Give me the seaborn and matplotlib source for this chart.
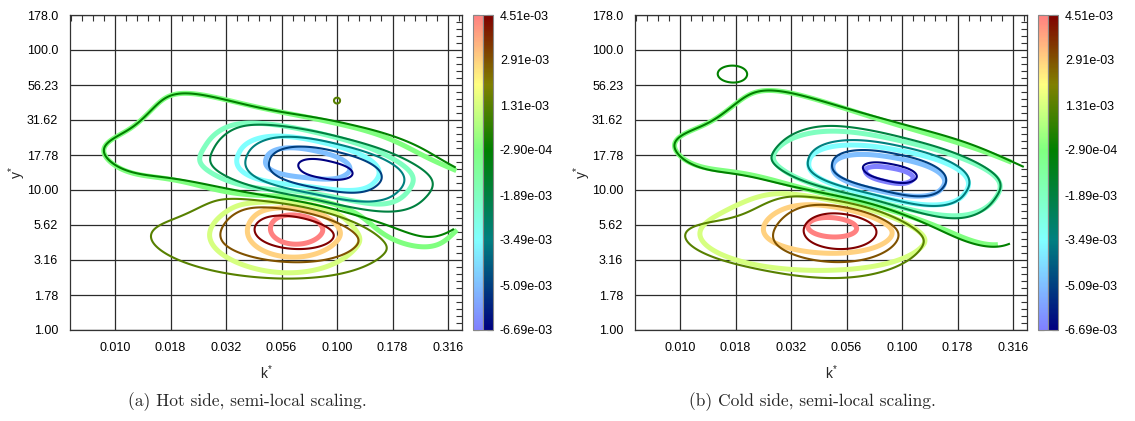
import numpy as np
import matplotlib
matplotlib.use("Agg")
import matplotlib.pyplot as plt
import seaborn as sns
from matplotlib.colors import LinearSegmentedColormap, Normalize
from matplotlib.cm import ScalarMappable
from matplotlib.ticker import FixedLocator, FixedFormatter, NullFormatter

levels = [-6.69e-3, -5.09e-3, -3.49e-3, -1.89e-3, -2.90e-4, 1.31e-3, 2.91e-3, 4.51e-3]
k_labels = ["0.010", "0.018", "0.032", "0.056", "0.100", "0.178", "0.316"]
y_labels = ["1.00", "1.78", "3.16", "5.62", "10.00", "17.78", "31.62", "56.23", "100.0", "178.0"]
captions = ["(a) Hot side, semi-local scaling.", "(b) Cold side, semi-local scaling."]

# spectrum read off as blobs in log(k*), log(y*):
# amp, k centre, y centre, width log k, width log y, tilt, flatness, skew
hot_thick = [
    [ 5.15e-3, 0.0692, 5.62, 0.17, 0.18, -10, 1, 0],
    [ 1.2e-3, 0.0355, 4.37, 0.26, 0.20, -22, 1, 0],
    [-4.9e-3, 0.0741, 14.4, 0.266, 0.165, -18, 1.2, 0],
    [-1.4e-3, 0.0708, 13.8, 0.672, 0.25, -26, 3, 0.096],
    [-0.45e-3, 0.0132, 15.85, 0.15, 0.10, -25, 1, 0],
]
hot_thin = [
    [ 5.8e-3, 0.0676, 5.37, 0.25, 0.19, -15, 1, 0],
    [ 1.5e-3, 0.0224, 3.98, 0.30, 0.16, -25, 1, 0],
    [-6.2e-3, 0.0871, 12.9, 0.276, 0.177, -20, 1.2, 0],
    [-1.4e-3, 0.0708, 13.8, 0.672, 0.25, -26, 3, 0.096],
    [-0.45e-3, 0.0132, 15.85, 0.15, 0.10, -25, 1, 0],
    [ 2.0e-3, 0.100, 43.5, 0.015, 0.023, 0, 1, 0],
]
cold_thick = [
    [ 4.7e-3, 0.0513, 5.62, 0.26, 0.175, -12, 1, 0],
    [ 1.4e-3, 0.0190, 4.17, 0.30, 0.17, -20, 1, 0],
    [-5.9e-3, 0.0851, 12.3, 0.281, 0.15, -16, 1.2, 0],
    [-1.4e-3, 0.0794, 14.1, 0.67, 0.255, -28, 3, 0.178],
    [-0.5e-3, 0.0141, 17.4, 0.15, 0.10, -25, 1, 0],
]
cold_thin = [
    [ 5.7e-3, 0.055, 5.37, 0.22, 0.19, -12, 1, 0],
    [ 1.6e-3, 0.0168, 4.17, 0.32, 0.17, -20, 1, 0],
    [-6.1e-3, 0.0851, 12.6, 0.28, 0.165, -18, 1.2, 0],
    [-1.4e-3, 0.0794, 14.1, 0.67, 0.255, -28, 3, 0.178],
    [-0.5e-3, 0.0141, 17.4, 0.15, 0.10, -25, 1, 0],
    [-0.8e-3, 0.0172, 67.6, 0.046, 0.041, 0, 1, 0],
]
# largest k* resolved, given at two heights: (k, y), (k, y)
hot_thick_kmax = [(0.3467, 13.5), (0.349, 5.32)]
hot_thin_kmax = [(0.3436, 12.45), (0.3357, 3.69)]
cold_thick_kmax = [(0.3076, 13.15), (0.2754, 4.645)]
cold_thin_kmax = [(0.344, 11.46), (0.3076, 4.276)]

sns.set_theme(style="white")
plt.rcParams["font.family"] = ["Liberation Sans", "DejaVu Sans"]
plt.rcParams["mathtext.fontset"] = "custom"
plt.rcParams["mathtext.rm"] = "Liberation Sans"
plt.rcParams["mathtext.it"] = "Liberation Sans"

base = [(0.0, (0, 0, 1)), (1/7, (0, 0.5, 1)), (2/7, (0, 1, 1)), (3/7, (0, 1, 0.5)),
        (4/7, (0, 1, 0)), (0.78, (1, 1, 0)), (1.0, (1, 0, 0))]
light = LinearSegmentedColormap.from_list("light", [(p, tuple(0.5 + 0.5 * np.array(c))) for p, c in base])
dark = LinearSegmentedColormap.from_list("dark", [(p, tuple(0.5 * np.array(c))) for p, c in base])
norm = Normalize(levels[0], levels[-1])

lu = np.linspace(-2.35, -0.40, 720)
lv = np.linspace(0.0, 2.25, 600)
U, V = np.meshgrid(lu, lv)


def field(table, kmax):
    f = np.zeros_like(U)
    for amp, k0, y0, wk, wy, tilt, shape, skew in table:
        du = U - np.log10(k0)
        dv = V - np.log10(y0)
        t = np.deg2rad(tilt)
        a = du * np.cos(t) + dv * np.sin(t)
        b = -du * np.sin(t) + dv * np.cos(t)
        a = a - skew * b
        f += amp * np.exp(-0.5 * ((a / wk) ** 2) ** shape - 0.5 * ((b / wy) ** 2) ** shape)
    (k1, y1), (k2, y2) = kmax
    u1, v1, u2, v2 = np.log10([k1, y1, k2, y2])
    edge = u1 + (u2 - u1) * (V - v1) / (v2 - v1)
    return np.ma.masked_where(U > edge, f)


W, H = 1135, 421
fig = plt.figure(figsize=(W / 100, H / 100), dpi=100)
fig.patch.set_facecolor("white")

panels = [(hot_thick, hot_thin, hot_thick_kmax, hot_thin_kmax, 70),
          (cold_thick, cold_thin, cold_thick_kmax, cold_thin_kmax, 635)]
for i, (thick, thin, km1, km2, x0) in enumerate(panels):
    ax = fig.add_axes([x0 / W, 1 - 330 / H, 392 / W, 315 / H])
    ax.set_xscale("log")
    ax.set_yscale("log")
    ax.contour(10 ** U, 10 ** V, field(thick, km1), levels=levels,
               colors=[light(norm(l)) for l in levels], linewidths=3.6)
    ax.contour(10 ** U, 10 ** V, field(thin, km2), levels=levels,
               colors=[dark(norm(l)) for l in levels], linewidths=1.5)
    ax.set_xlim(10 ** -2.203, 10 ** -0.437)
    ax.set_ylim(1, 10 ** 2.25)
    ax.xaxis.set_major_locator(FixedLocator(10 ** np.linspace(-2, -0.5, 7)))
    ax.xaxis.set_major_formatter(FixedFormatter(k_labels))
    ax.yaxis.set_major_locator(FixedLocator(10 ** np.linspace(0, 2.25, 10)))
    ax.yaxis.set_major_formatter(FixedFormatter(y_labels))
    ax.xaxis.set_minor_locator(FixedLocator(10 ** np.arange(-2.2, -0.43, 0.05)))
    ax.yaxis.set_minor_locator(FixedLocator(10 ** np.arange(0, 2.26, 0.05)))
    ax.xaxis.set_minor_formatter(NullFormatter())
    ax.yaxis.set_minor_formatter(NullFormatter())
    ax.tick_params(which="both", direction="in", top=True, right=True, colors="#333333",
                   labelcolor="black", labelsize=9, pad=8.5)
    ax.tick_params(which="major", length=0)
    ax.tick_params(which="minor", length=4, width=0.8)
    ax.set_axisbelow(True)
    ax.grid(which="major", color="#2b2b2b", lw=0.9)
    for s in ax.spines.values():
        s.set_color("#333333")
        s.set_linewidth(0.9)
    ax.set_xlabel(r"k$^{*}$", fontsize=10)
    ax.set_ylabel(r"y$^{*}$", fontsize=10)
    ax.xaxis.set_label_coords(0.5, -0.105)
    ax.yaxis.set_label_coords(-0.108, 0.5)

    cx = x0 + 392 + 11
    cl = fig.add_axes([cx / W, 1 - 330 / H, 10 / W, 315 / H])
    cd = fig.add_axes([(cx + 10) / W, 1 - 330 / H, 10 / W, 315 / H])
    cb1 = fig.colorbar(ScalarMappable(norm, light), cax=cl, ticks=levels)
    cb2 = fig.colorbar(ScalarMappable(norm, dark), cax=cd, ticks=levels)
    cb1.ax.yaxis.set_ticks_position("left")
    cb1.ax.yaxis.set_major_formatter(NullFormatter())
    cb1.ax.tick_params(direction="in", length=4, width=0.8, colors="#333333")
    cb2.ax.yaxis.set_major_formatter(FixedFormatter([f"{l:.2e}" for l in levels]))
    cb2.ax.tick_params(direction="in", length=4, width=0.8, colors="#333333",
                       labelcolor="black", labelsize=9, pad=5)
    for cb in (cb1, cb2):
        cb.outline.set_edgecolor("#888888")
        cb.outline.set_linewidth(0.8)

    fig.text((247 + 565 * i) / W, 1 - 402 / H, captions[i], ha="center", va="center",
             family=["cmr10", "DejaVu Serif"], fontsize=12.5)

fig.savefig("out.png", dpi=100, facecolor="white")
